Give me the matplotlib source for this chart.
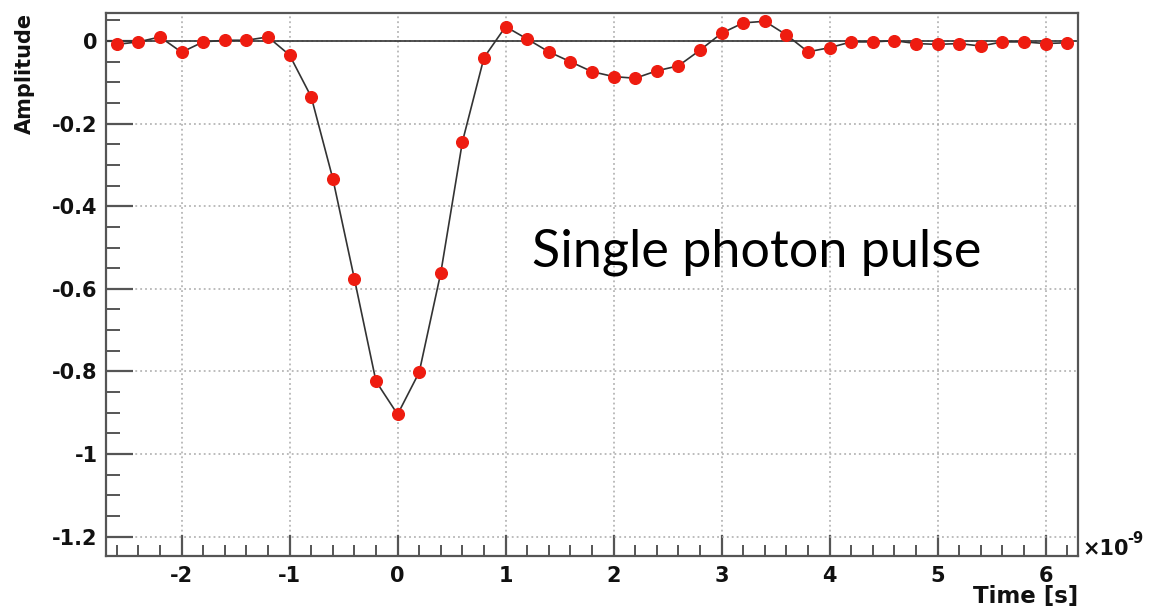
import matplotlib
matplotlib.use("Agg")
import matplotlib.pyplot as plt
from matplotlib.ticker import MultipleLocator

plt.rcParams["axes.unicode_minus"] = False

# Data (time in units of 1e-9 s)
time_ns = [-2.6, -2.4, -2.2, -2.0, -1.8, -1.6, -1.4, -1.2, -1.0, -0.8,
           -0.6, -0.4, -0.2, 0.0, 0.2, 0.4, 0.6, 0.8, 1.0, 1.2,
           1.4, 1.6, 1.8, 2.0, 2.2, 2.4, 2.6, 2.8, 3.0, 3.2,
           3.4, 3.6, 3.8, 4.0, 4.2, 4.4, 4.6, 4.8, 5.0, 5.2,
           5.4, 5.6, 5.8, 6.0, 6.2]
amplitude = [-0.008, -0.002, 0.010, -0.027, -0.002, 0.002, 0.002, 0.010, -0.034, -0.135,
             -0.333, -0.576, -0.824, -0.904, -0.802, -0.561, -0.244, -0.040, 0.035, 0.005,
             -0.026, -0.050, -0.074, -0.086, -0.090, -0.072, -0.060, -0.022, 0.019, 0.044,
             0.048, 0.015, -0.026, -0.016, -0.002, -0.002, 0.001, -0.006, -0.008, -0.006,
             -0.012, -0.002, -0.002, -0.006, -0.004]
x_ticks = [-2, -1, 0, 1, 2, 3, 4, 5, 6]
x_ticklabels = ["-2", "-1", "0", "1", "2", "3", "4", "5", "6"]
y_ticks = [0, -0.2, -0.4, -0.6, -0.8, -1.0, -1.2]
y_ticklabels = ["0", "-0.2", "-0.4", "-0.6", "-0.8", "-1", "-1.2"]

W, H = 1149, 608
fig = plt.figure(figsize=(W / 100, H / 100), dpi=100)
ax = fig.add_axes([106 / W, 1 - 556 / H, (1078 - 106) / W, (556 - 13) / H])

ax.set_xlim(-2.7, 6.3)
ax.set_ylim(-1.247, 0.068)

# zero line
ax.axhline(0, color="#333333", lw=1.2, zorder=2)

ax.plot(time_ns, amplitude, color="#333333", lw=1.2, zorder=3)
ax.plot(time_ns, amplitude, ls="none", marker="o", ms=8.4,
        mfc="#ee1c10", mec="#ee1c10", zorder=4)

ax.set_xticks(x_ticks)
ax.set_xticklabels(x_ticklabels)
ax.set_yticks(y_ticks)
ax.set_yticklabels(y_ticklabels)
ax.xaxis.set_minor_locator(MultipleLocator(0.2))
ax.yaxis.set_minor_locator(MultipleLocator(0.05))

ax.grid(True, which="major", color="#aaaaaa", ls=(0, (1.2, 2.0)), lw=1.1)
ax.set_axisbelow(True)

for s in ax.spines.values():
    s.set_color("#555555")
    s.set_linewidth(1.6)

ax.tick_params(axis="both", which="both", direction="in", colors="#555555",
               top=False, right=False)
ax.tick_params(axis="y", which="major", length=19.5, width=1.6, pad=6)
ax.tick_params(axis="y", which="minor", length=10, width=1.4)
ax.tick_params(axis="x", which="major", length=15, width=1.6, pad=7)
ax.tick_params(axis="x", which="minor", length=8, width=1.4)

for lab in ax.get_xticklabels() + ax.get_yticklabels():
    lab.set_fontfamily("DejaVu Sans")
    lab.set_fontweight("bold")
    lab.set_fontsize(15)
    lab.set_color("#111111")

fig.text(25 / W, 1 - 13 / H, "Amplitude", rotation=90, ha="center", va="top",
         fontsize=15, fontweight="bold", family="DejaVu Sans", color="#111111")
fig.text(1078 / W, 1 - 596 / H, "Time [s]", ha="right", va="center",
         fontsize=16.5, fontweight="bold", family="DejaVu Sans", color="#111111")
fig.text(1082 / W, 1 - 555 / H, "×10", ha="left", va="baseline",
         fontsize=15, fontweight="bold", family="DejaVu Sans", color="#111111")
fig.text(1127 / W, 1 - 543 / H, "-9", ha="left", va="baseline",
         fontsize=10.5, fontweight="bold", family="DejaVu Sans", color="#111111")

ax.text(1.24, -0.547, "Single photon pulse", ha="left", va="baseline",
        fontsize=37.5, family="Lato", color="#000000", zorder=5)

fig.savefig("out.png", dpi=100)
